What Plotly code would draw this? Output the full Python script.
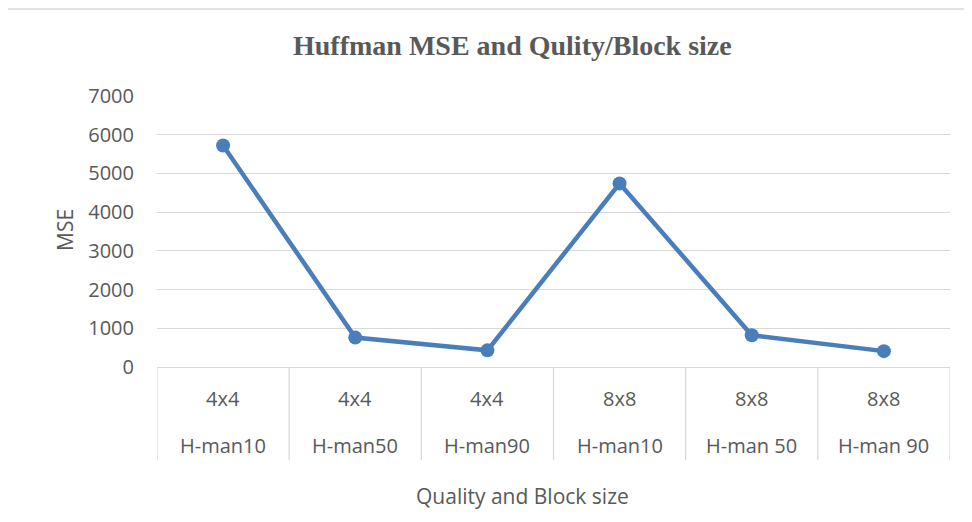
import plotly.graph_objects as go

block_sizes = ["4x4", "4x4", "4x4", "8x8", "8x8", "8x8"]
qualities = ["H-man10", "H-man50", "H-man90", "H-man10", "H-man 50", "H-man 90"]
mse = [5720, 760, 430, 4740, 820, 410]

OFF = 8  # browser body margin
W, H = 972 - OFF, 522 - OFF
# plot area in screen pixels
SL, SR, ST, SB = 157, 950, 96, 367
L, T = SL - OFF, ST - OFF
R, B = W - (SR - OFF), H - (SB - OFF)
pw, ph = SR - SL, SB - ST

def px(x):
    return (x - SL) / pw

def py(y):
    return (SB - y) / ph

xs = list(range(len(mse)))
color = "#4a7ebb"
txt = "#595959"
font = "Open Sans"

fig = go.Figure()
fig.add_trace(go.Scatter(
    x=xs, y=mse, mode="lines+markers",
    line=dict(color=color, width=4.5),
    marker=dict(color=color, size=14),
    showlegend=False, hoverinfo="skip",
))

shapes = []
for i in range(len(xs) + 1):
    shapes.append(dict(type="line", xref="x", yref="paper",
                       x0=i - 0.5, x1=i - 0.5, y0=0, y1=py(460),
                       line=dict(color="#d9d9d9", width=1.3)))
shapes.append(dict(type="rect", xref="paper", yref="paper",
                   x0=px(6), x1=px(1000), y0=py(560), y1=py(9),
                   line=dict(color="#d9d9d9", width=1.3), layer="below"))

def ann(x, y, text, size, family=font, xref="paper", angle=0):
    return dict(x=x, y=y, xref=xref, yref="paper", text=text, showarrow=False,
                xanchor="center", yanchor="middle", textangle=angle,
                font=dict(family=family, size=size, color=txt))

annotations = []
for i, (b, q) in enumerate(zip(block_sizes, qualities)):
    annotations.append(ann(i, py(398), b, 20, xref="x"))
    annotations.append(ann(i, py(445), q, 20, xref="x"))
annotations.append(ann(px(522), py(496), "Quality and Block size", 21))
annotations.append(ann(px(65), py(230), "MSE", 21, angle=-90))
annotations.append(ann(px(512), py(45), "<b>Huffman MSE and Qulity/Block size</b>", 28,
                       family="Liberation Serif"))

fig.update_layout(
    width=W, height=H,
    margin=dict(l=L, r=R, t=T, b=B, autoexpand=False),
    paper_bgcolor="white", plot_bgcolor="white",
    shapes=shapes, annotations=annotations,
    xaxis=dict(range=[-0.5, len(xs) - 0.5], showticklabels=False, showgrid=False,
               zeroline=False, showline=False, fixedrange=True),
    yaxis=dict(range=[0, 7000], dtick=1000, showgrid=True, gridcolor="#d9d9d9",
               gridwidth=1.3, zeroline=True, zerolinecolor="#d9d9d9", zerolinewidth=1.3,
               showline=False, ticks="", ticklabelstandoff=22,
               tickfont=dict(family=font, size=20, color=txt)),
)

fig.write_html("out.html")
